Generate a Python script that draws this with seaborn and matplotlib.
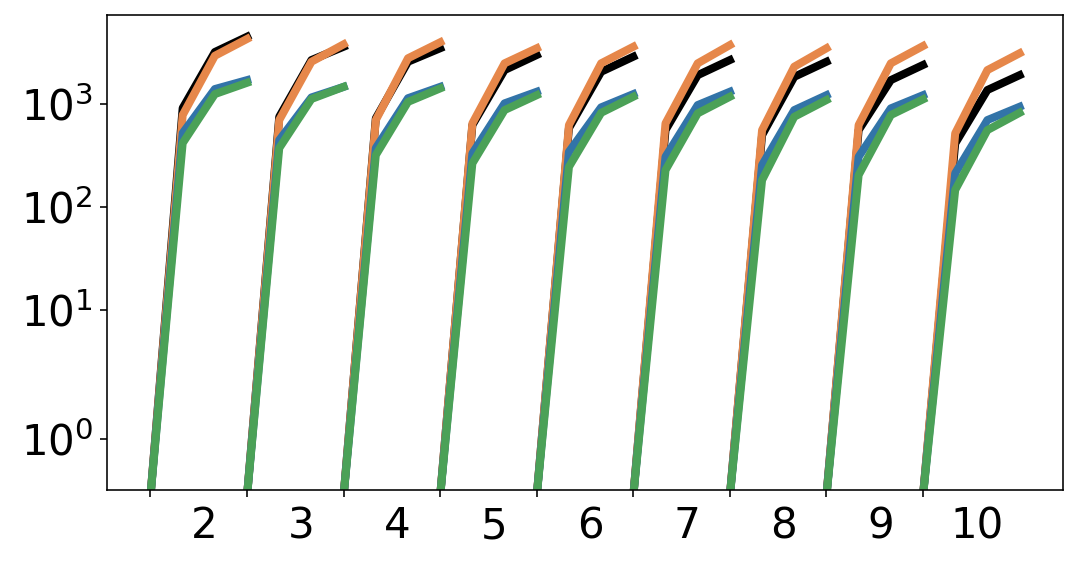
import numpy as np
import pandas as pd
import matplotlib
matplotlib.use("Agg")
import matplotlib.pyplot as plt
import seaborn as sns

# groups shown on the x axis, 4 steps per group (first step is 0)
groups = [2, 3, 4, 5, 6, 7, 8, 9, 10]
steps = [0, 1, 2, 3]

# values at steps 1..3 for each group (step 0 is always 0)
black = [[914, 3210, 4520], [752, 2680, 3610], [726, 2580, 3490],
         [625, 2140, 3000], [584, 2060, 2890], [558, 1910, 2680],
         [499, 1840, 2580], [558, 1710, 2400], [414, 1370, 1910]]
orange = [[782, 2950, 4300], [699, 2580, 3810], [699, 2790, 3990],
          [649, 2490, 3490], [625, 2490, 3610], [649, 2490, 3750],
          [558, 2310, 3490], [625, 2490, 3670], [519, 2140, 3120]]
blue = [[522, 1400, 1710], [446, 1160, 1470], [373, 1140, 1470],
        [331, 1016, 1318], [343, 929, 1250], [307, 978, 1318],
        [255, 874, 1220], [307, 908, 1220], [212, 699, 941]]
green = [[417, 1250, 1610], [373, 1120, 1470], [319, 1050, 1420],
         [265, 874, 1220], [245, 822, 1178], [228, 812, 1178],
         [182, 752, 1094], [204, 782, 1111], [146, 558, 822]]

series = {"black": black, "orange": orange, "blue": blue, "green": green}
palette = {"black": "black", "orange": "#e6874a",
           "blue": "#3274a8", "green": "#4ba157"}

rows = []
for name, vals in series.items():
    for gi, g in enumerate(groups):
        yv = [0] + vals[gi]
        for s, v in zip(steps, yv):
            rows.append({"x": gi + s / 3, "value": v, "series": name, "group": g})
df = pd.DataFrame(rows)

fig, ax = plt.subplots(figsize=(1079 / 144, 562 / 144), dpi=144)
fig.subplots_adjust(left=0.0992, right=0.9852, top=0.9733, bottom=0.1281)

sns.lineplot(data=df, x="x", y="value", hue="series", units="group",
             estimator=None, sort=False, palette=palette, lw=4,
             legend=False, ax=ax)

ax.set_yscale("symlog")
ax.set_ylim(0.1, 7350)

ax.set_xticks(range(len(groups)))
ax.set_xticklabels([])
ax.set_xticks([i + 0.56 for i in range(len(groups))], minor=True)
ax.set_xticklabels([str(g) for g in groups], minor=True)
ax.tick_params(axis="x", which="minor", length=0, pad=7.5)
ax.tick_params(which="both", labelsize=21)
ax.set_xlabel("")
ax.set_ylabel("")

fig.savefig("out.png", dpi=144)
